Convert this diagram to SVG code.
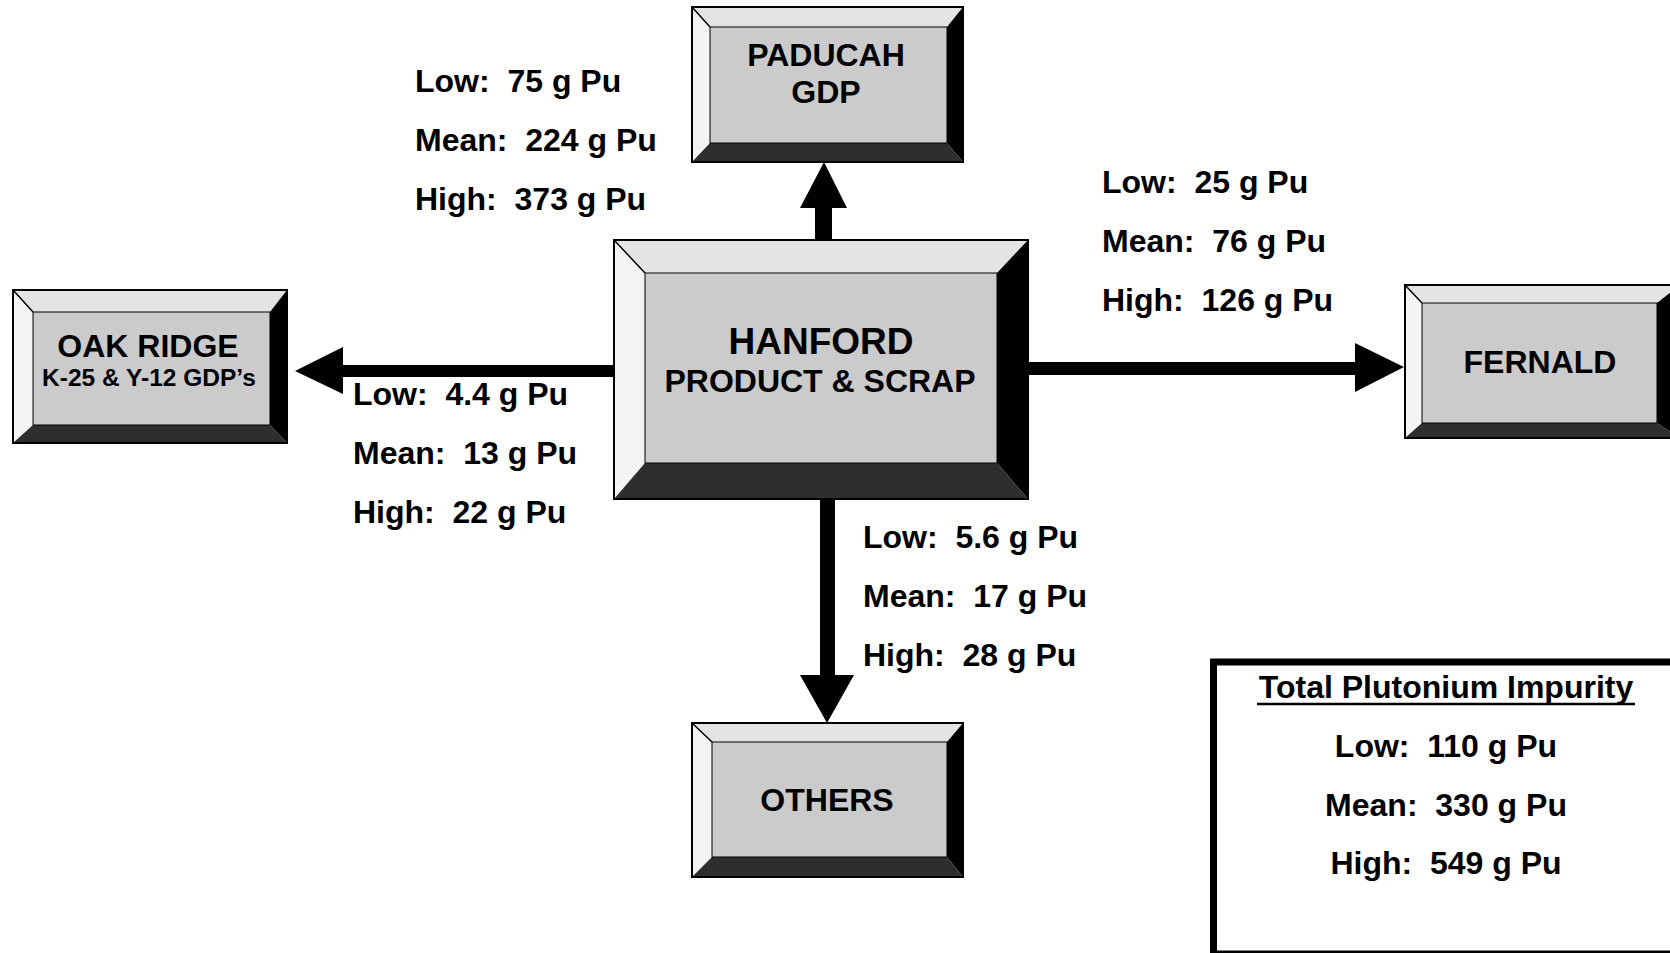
<svg xmlns="http://www.w3.org/2000/svg" width="1670" height="953" viewBox="0 0 1670 953">
<style>
  text { font-family: "Liberation Sans", Arial, sans-serif; font-weight: bold; fill: #000; }
  .lbl { font-size: 32px; }
  .ctr { text-anchor: middle; }
  .face { fill: #cbcbcb; }
  .top { fill: #e4e4e4; }
  .left { fill: #f4f4f4; }
  .right { fill: #000; }
  .bot { fill: #2e2e2e; }
  .edge { fill: none; stroke: #000; stroke-width: 2; }
  .diag { stroke: #000; stroke-width: 1.5; }
  .arrow { fill: #000; }
</style>
<rect width="1670" height="953" fill="#fff"/>

<g id="connectors">
  <polygon class="arrow" points="815,241 832,241 832,208 847,208 824,162 800,208 815,208"/>
  <polygon class="arrow" points="820,499 835,499 835,675 854,675 827,723 800,675 820,675"/>
  <polygon class="arrow" points="614,365 614,377 343,377 343,394 295,371 343,347 343,365"/>
  <polygon class="arrow" points="1028,362 1028,375 1355,375 1355,392 1404,367 1355,343 1355,362"/>
</g>

<g id="hanford">
  <polygon class="top" points="614,240 1028,240 997,273 645,273"/>
  <polygon class="left" points="614,240 645,273 645,463 614,499"/>
  <polygon class="right" points="1028,240 1028,499 997,463 997,273"/>
  <polygon class="bot" points="614,499 645,463 997,463 1028,499"/>
  <rect class="face" x="645" y="273" width="352" height="190"/>
  <line class="diag" x1="614" y1="240" x2="645" y2="273"/>
  <rect class="edge" x="645" y="273" width="352" height="190" style="stroke-width:1"/>
  <rect class="edge" x="614" y="240" width="414" height="259"/>
  <text class="ctr" x="821" y="354" font-size="37">HANFORD</text>
  <text class="ctr" x="820" y="392" font-size="32">PRODUCT &amp; SCRAP</text>
</g>

<g id="paducah">
  <polygon class="top" points="692,7 963,7 947,27 710,27"/>
  <polygon class="left" points="692,7 710,27 710,143 692,162"/>
  <polygon class="right" points="963,7 963,162 947,143 947,27"/>
  <polygon class="bot" points="692,162 710,143 947,143 963,162"/>
  <rect class="face" x="710" y="27" width="237" height="116"/>
  <line class="diag" x1="692" y1="7" x2="710" y2="27"/>
  <rect class="edge" x="710" y="27" width="237" height="116" style="stroke-width:1"/>
  <rect class="edge" x="692" y="7" width="271" height="155"/>
  <text class="ctr" x="826" y="66" font-size="32">PADUCAH</text>
  <text class="ctr" x="826" y="103" font-size="32">GDP</text>
</g>

<g id="oakridge">
  <polygon class="top" points="13,290 287,290 270,312 33,312"/>
  <polygon class="left" points="13,290 33,312 33,425 13,443"/>
  <polygon class="right" points="287,290 287,443 270,425 270,312"/>
  <polygon class="bot" points="13,443 33,425 270,425 287,443"/>
  <rect class="face" x="33" y="312" width="237" height="113"/>
  <line class="diag" x1="13" y1="290" x2="33" y2="312"/>
  <rect class="edge" x="33" y="312" width="237" height="113" style="stroke-width:1"/>
  <rect class="edge" x="13" y="290" width="274" height="153"/>
  <text class="ctr" x="148" y="357" font-size="32">OAK RIDGE</text>
  <text class="ctr" x="149" y="386" font-size="24.5">K-25 &amp; Y-12 GDP’s</text>
</g>

<g id="fernald">
  <polygon class="top" points="1405,285 1680,285 1657,303 1422,303"/>
  <polygon class="left" points="1405,285 1422,303 1422,423 1405,438"/>
  <polygon class="right" points="1680,285 1680,438 1657,423 1657,303"/>
  <polygon class="bot" points="1405,438 1422,423 1657,423 1680,438"/>
  <rect class="face" x="1422" y="303" width="235" height="120"/>
  <line class="diag" x1="1405" y1="285" x2="1422" y2="303"/>
  <rect class="edge" x="1422" y="303" width="235" height="120" style="stroke-width:1"/>
  <rect class="edge" x="1405" y="285" width="275" height="153"/>
  <text class="ctr" x="1540" y="373" font-size="32">FERNALD</text>
</g>

<g id="others">
  <polygon class="top" points="692,723 963,723 947,742 712,742"/>
  <polygon class="left" points="692,723 712,742 712,857 692,877"/>
  <polygon class="right" points="963,723 963,877 947,857 947,742"/>
  <polygon class="bot" points="692,877 712,857 947,857 963,877"/>
  <rect class="face" x="712" y="742" width="235" height="115"/>
  <line class="diag" x1="692" y1="723" x2="712" y2="742"/>
  <rect class="edge" x="712" y="742" width="235" height="115" style="stroke-width:1"/>
  <rect class="edge" x="692" y="723" width="271" height="154"/>
  <text class="ctr" x="827" y="811" font-size="32">OTHERS</text>
</g>

<g id="labels">
  <text class="lbl" x="415" y="92" xml:space="preserve">Low:  75 g Pu</text>
  <text class="lbl" x="415" y="151" xml:space="preserve">Mean:  224 g Pu</text>
  <text class="lbl" x="415" y="210" xml:space="preserve">High:  373 g Pu</text>

  <text class="lbl" x="1102" y="193" xml:space="preserve">Low:  25 g Pu</text>
  <text class="lbl" x="1102" y="252" xml:space="preserve">Mean:  76 g Pu</text>
  <text class="lbl" x="1102" y="311" xml:space="preserve">High:  126 g Pu</text>

  <text class="lbl" x="353" y="405" xml:space="preserve">Low:  4.4 g Pu</text>
  <text class="lbl" x="353" y="464" xml:space="preserve">Mean:  13 g Pu</text>
  <text class="lbl" x="353" y="523" xml:space="preserve">High:  22 g Pu</text>

  <text class="lbl" x="863" y="548" xml:space="preserve">Low:  5.6 g Pu</text>
  <text class="lbl" x="863" y="607" xml:space="preserve">Mean:  17 g Pu</text>
  <text class="lbl" x="863" y="666" xml:space="preserve">High:  28 g Pu</text>
</g>

<g id="total">
  <rect x="1213.5" y="662" width="500" height="292" fill="#fff" stroke="#000" stroke-width="7"/>
  <text class="lbl ctr" x="1446" y="698">Total Plutonium Impurity</text>
  <line x1="1257" y1="704" x2="1635" y2="704" stroke="#000" stroke-width="2.5"/>
  <text class="lbl ctr" x="1446" y="757" xml:space="preserve">Low:  110 g Pu</text>
  <text class="lbl ctr" x="1446" y="816" xml:space="preserve">Mean:  330 g Pu</text>
  <text class="lbl ctr" x="1446" y="874" xml:space="preserve">High:  549 g Pu</text>
</g>
</svg>
